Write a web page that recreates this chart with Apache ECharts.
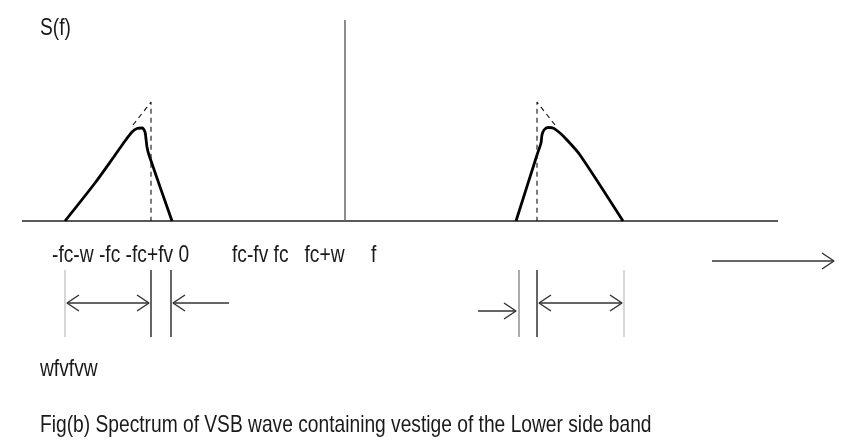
<!DOCTYPE html>
<html><head><meta charset="utf-8">
<script src="https://cdn.jsdelivr.net/npm/echarts@6/dist/echarts.min.js"></script>
<style>html,body{margin:0;padding:0;background:#fff}#c{width:843px;height:440px}</style>
</head><body><div id="c"></div>
<script>
// Frequency (x) and spectrum magnitude S(f) (y)
const leftBand  = [[-280,0],[-250,38],[-232,63],[-220,80],[-213,89],[-208,92.5],[-203,93],[-200,89],[-199,82],[-198,74],[-196,66],[-173,0]];
const rightBand = [[171,0],[192,66],[196,78],[197,86],[199,91],[203,93.5],[208,93],[215,88],[222,81],[235,66],[278,0]];
const leftGuide  = [[-212,96],[-194,119],[-194,0]];
const rightGuide = [[210,96],[192,119],[192,0]];
const freqAxis = [[-323,0],[433,0]];
const ordinate = [[0,0],[0,201]];
// lower bracket marks
const bracketRange = [-49,-116];
const lightTicks = [-280,279];
const midTicks = [174];
const darkTicks = [-194,-174,192];
const doubleArrows = [[-278,-196,-82],[194,277,-82]];     // [from, to, level]
const singleArrows = [[-116,-172,-82],[133,171,-90],[367,489,-40]]; // [tail, tip, level]
// texts
const yLabel = 'S(f)';
const tickRowLeft = '-fc-w -fc -fc+fv 0';
const tickRowRight = 'fc-fv fc   fc+w';
const xLabel = 'f';
const bandLabel = 'wfvfvw';
const caption = 'Fig(b) Spectrum of VSB wave containing vestige of the Lower side band';

const HEAD_L = 12, HEAD_W = 8;
const series = [];
function line(data, style){
  series.push({type:'line', data, showSymbol:false, silent:true, animation:false,
    lineStyle:Object.assign({color:'#000', width:1.5}, style)});
}
function head(tip, from, y, style){
  const d = tip > from ? 1 : -1;
  line([[tip-d*HEAD_L, y+HEAD_W],[tip,y],[tip-d*HEAD_L, y-HEAD_W]], style);
}
line(freqAxis, {color:'#222', width:1.5});
line(ordinate, {color:'#666', width:1.5});
series.push({type:'line', data:leftBand, smooth:0.25, showSymbol:false, silent:true, animation:false, lineStyle:{color:'#000', width:2.8}});
series.push({type:'line', data:rightBand, smooth:0.25, showSymbol:false, silent:true, animation:false, lineStyle:{color:'#000', width:2.8}});
line(leftGuide, {color:'#111', width:1.1, type:[5,4]});
line(rightGuide, {color:'#111', width:1.1, type:[5,4]});
lightTicks.forEach(x=>line([[x,bracketRange[0]],[x,bracketRange[1]]], {color:'#bbb', width:1.2}));
midTicks.forEach(x=>line([[x,bracketRange[0]],[x,bracketRange[1]]], {color:'#888', width:1.4}));
darkTicks.forEach(x=>line([[x,bracketRange[0]],[x,bracketRange[1]]], {color:'#333', width:1.5}));
const arrowStyle = {color:'#333', width:1.5};
doubleArrows.forEach(([a,b,y])=>{
  line([[a,y],[b,y]], arrowStyle);
  head(a,b,y,arrowStyle); head(b,a,y,arrowStyle);
});
singleArrows.forEach(([a,b,y])=>{
  line([[a,y],[b,y]], arrowStyle);
  head(b,a,y,arrowStyle);
});

const FONT = '24px "Liberation Sans", Arial, sans-serif';
function txt(text, x, y){
  return {type:'text', x, y, scaleX:0.8, silent:true,
    style:{text, font:FONT, fill:'#1a1a1a', textAlign:'left', textVerticalAlign:'middle'}};
}
const chart = echarts.init(document.getElementById('c'), null, {renderer:'canvas'});
chart.setOption({
  animation:false,
  grid:{left:0,right:0,top:0,bottom:0},
  xAxis:{type:'value', min:-345, max:498, show:false},
  yAxis:{type:'value', min:-219, max:221, show:false},
  series,
  graphic:[
    txt(yLabel, 40, 28),
    txt(tickRowLeft, 52, 255),
    txt(tickRowRight, 232, 255),
    txt(xLabel, 371, 255),
    txt(bandLabel, 40, 369),
    txt(caption, 40, 425)
  ]
});
</script></body></html>
